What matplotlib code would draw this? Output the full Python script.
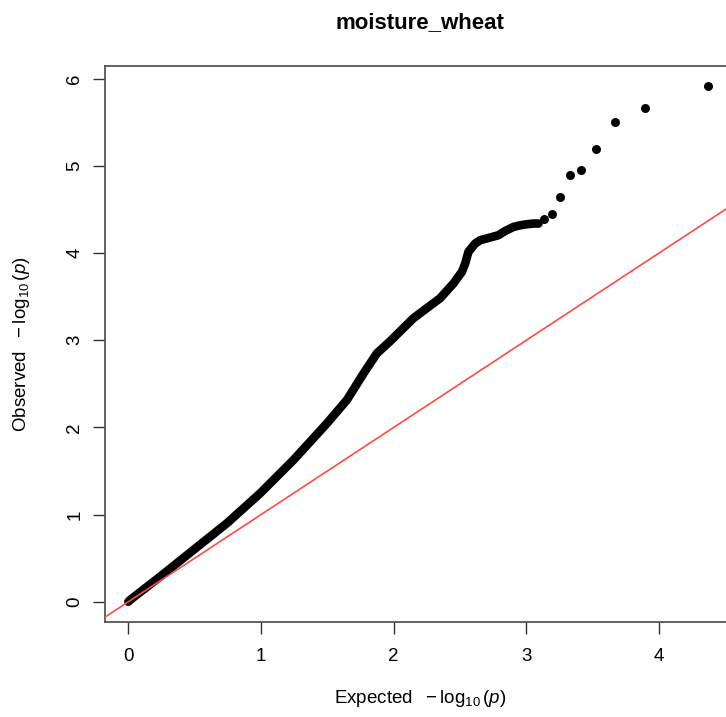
import matplotlib
matplotlib.use("Agg")
import matplotlib.pyplot as plt
import numpy as np

plt.rcParams["font.family"] = ["Liberation Sans", "DejaVu Sans"]
plt.rcParams["mathtext.fontset"] = "custom"
plt.rcParams["mathtext.rm"] = "Liberation Sans"
plt.rcParams["mathtext.it"] = "Liberation Sans:italic"

# ---------------------------------------------------------------------
#  QQ values (expected vs observed -log10 p)
# ---------------------------------------------------------------------
# dense body of the curve (thousands of overlapping dots)
body_expected = [0.0, 0.015, 0.241, 0.492, 0.743, 0.994, 1.245, 1.497,
                 1.647, 1.773, 1.873, 1.974, 2.149, 2.350, 2.450, 2.514,
                 2.539, 2.563, 2.614, 2.652, 2.727, 2.789, 2.840, 2.902,
                 2.953, 3.003, 3.053, 3.091]
body_observed = [0.0, 0.023, 0.290, 0.596, 0.901, 1.245, 1.627, 2.047,
                 2.314, 2.620, 2.849, 2.990, 3.253, 3.482, 3.651, 3.784,
                 3.880, 4.013, 4.109, 4.147, 4.178, 4.204, 4.253, 4.299,
                 4.318, 4.330, 4.338, 4.338]

# sparse tail, individual points
tail_expected = [3.136, 3.192, 3.254, 3.327, 3.412, 3.523, 3.671, 3.892, 4.371]
tail_observed = [4.387, 4.452, 4.643, 4.891, 4.956, 5.192, 5.502, 5.662, 5.911]

title = "moisture_wheat"
x_ticks = [0, 1, 2, 3, 4]
y_ticks = [0, 1, 2, 3, 4, 5, 6]

W, H = 726, 717
fig = plt.figure(figsize=(W / 100, H / 100), dpi=100)
# axes box runs a little past the right edge of the picture
ax = fig.add_axes([105 / W, (H - 622) / H, (735.5 - 105) / W, (622 - 66) / H])

ax.plot(body_expected, body_observed, color="black", lw=6.2,
        solid_capstyle="round", solid_joinstyle="round", zorder=2)
ax.scatter(tail_expected, tail_observed, s=42, color="black",
           linewidths=0, zorder=3)

# y = x reference line
ax.axline((0, 0), slope=1, color="#ff4a4a", lw=1.2, zorder=4)

ax.set_xlim(-0.176, 4.576)
ax.set_ylim(-0.232, 6.145)
ax.set_xticks(x_ticks)
ax.set_yticks(y_ticks)

for sp in ax.spines.values():
    sp.set_color("#555555")
    sp.set_linewidth(1.3)

ax.tick_params(axis="both", direction="out", length=8.5, width=1.0,
               color="#333333", labelsize=13.5, pad=10)
ax.tick_params(axis="y", pad=7)
for lab in ax.get_yticklabels():
    lab.set_rotation(90)
    lab.set_va("center")

ax.set_title(title, fontsize=16, fontweight="bold", pad=27)
ax.set_xlabel(r"Expected $\ -\log_{10}(\it{p})$", fontsize=13.5, labelpad=17)
ax.set_ylabel(r"Observed $\ -\log_{10}(\it{p})$", fontsize=13.5, labelpad=25)

fig.savefig("out.png", dpi=100)
